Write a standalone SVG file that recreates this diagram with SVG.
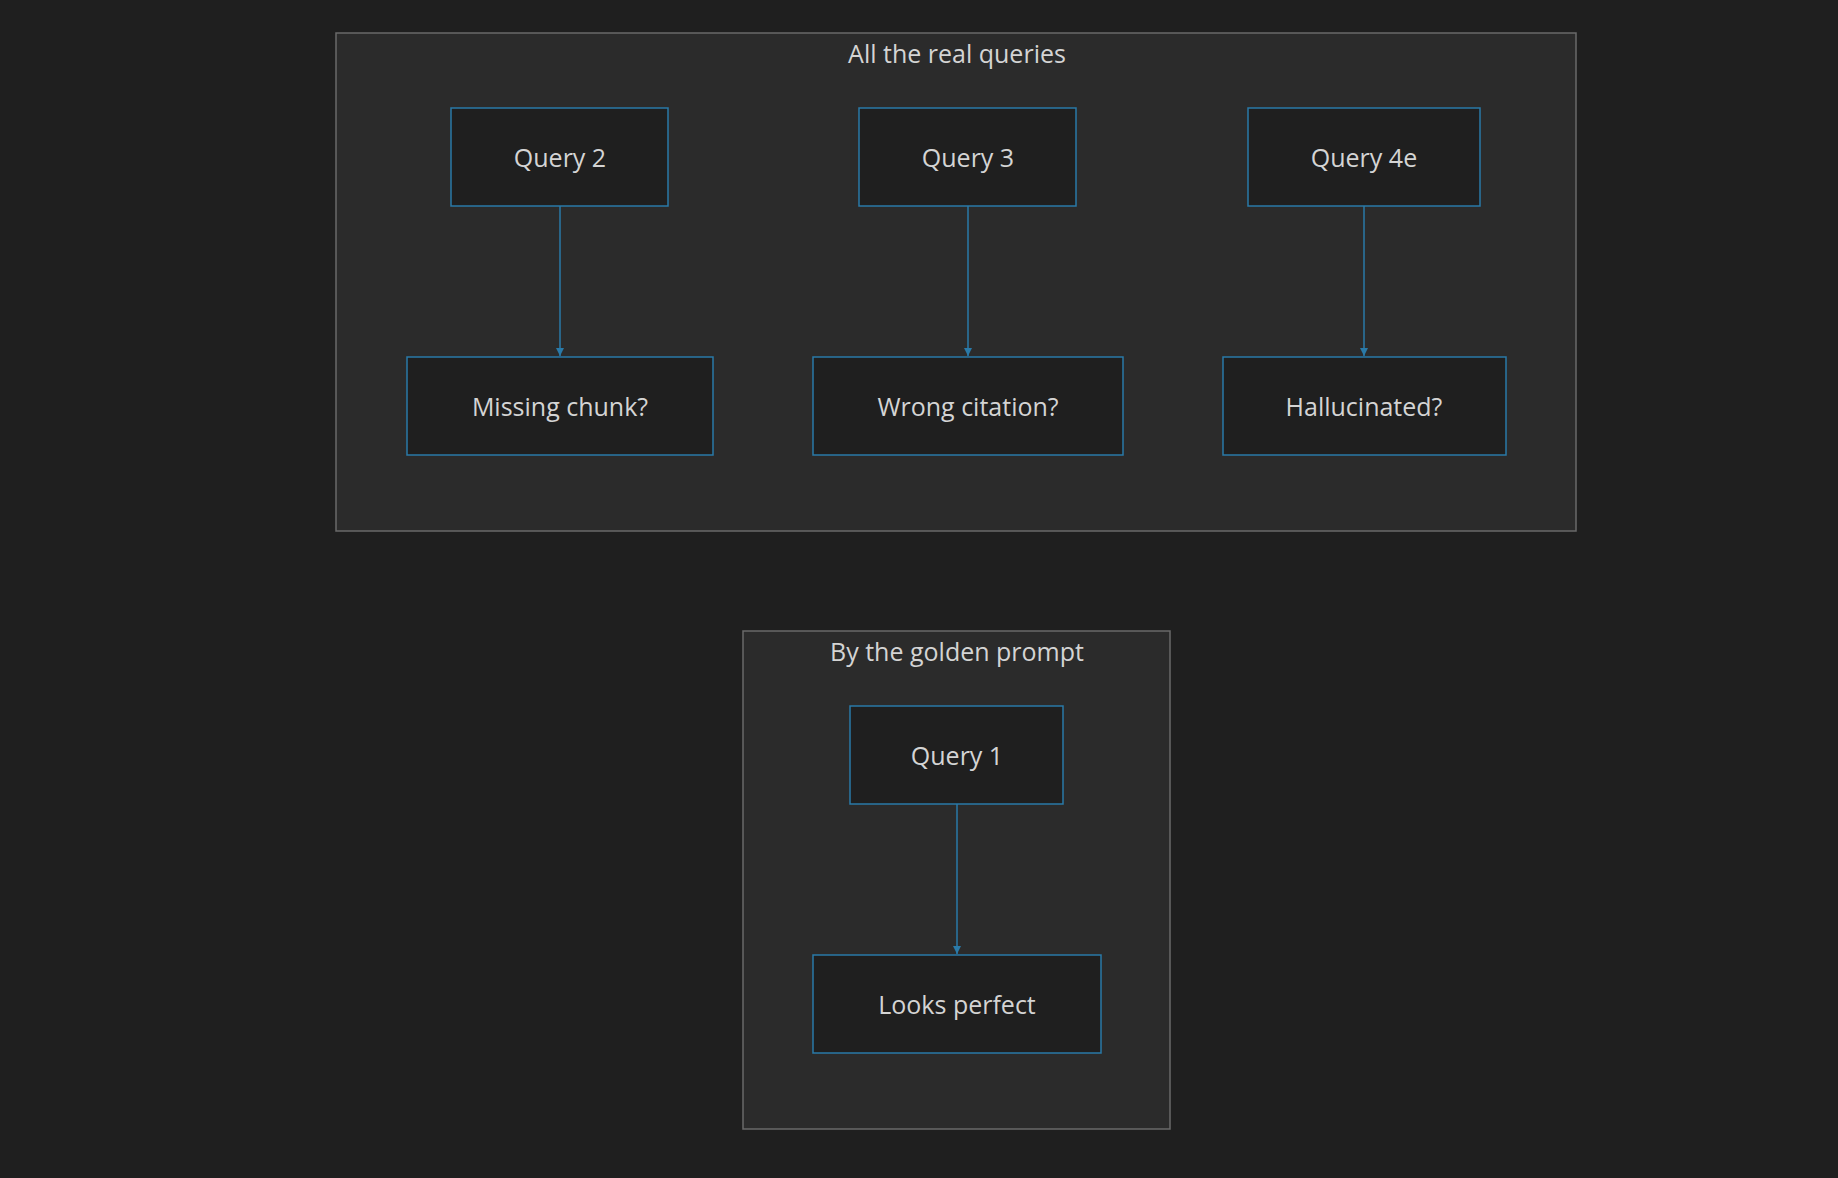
<svg xmlns="http://www.w3.org/2000/svg" width="1838" height="1178" viewBox="0 0 1838 1178">
<defs>
<marker id="ah" viewBox="0 0 10 10" refX="10" refY="5" markerWidth="8" markerHeight="8" orient="auto" markerUnits="userSpaceOnUse"><path d="M0,0L10,5L0,10z" fill="#2a7aa8"/></marker>
<style>
.cl{fill:#2b2b2b;stroke:#6a6a6a;stroke-width:1.5}
.nd{fill:#1f1f1f;stroke:#2a7aa8;stroke-width:1.5}
text{font-family:"Open Sans","Noto Sans",sans-serif;font-size:25px;fill:#d4d4d4;text-anchor:middle;dominant-baseline:central}
.e{stroke:#2a7aa8;stroke-width:1.5;fill:none;marker-end:url(#ah)}
</style>
</defs>
<rect width="1838" height="1178" fill="#1f1f1f"/>
<g id="cluster1"><rect class="cl" x="336" y="33" width="1240" height="498"/><text x="957" y="53">All the real queries</text></g>
<g id="cluster2"><rect class="cl" x="743" y="631" width="427" height="498"/><text x="957" y="651">By the golden prompt</text></g>
<g id="connectors">
<path class="e" d="M560,206V356"/>
<path class="e" d="M968,206V356"/>
<path class="e" d="M1364,206V356"/>
<path class="e" d="M957,804V954"/>
</g>
<g id="q2"><rect class="nd" x="451" y="108" width="217" height="98"/><text x="560" y="157">Query 2</text></g>
<g id="q3"><rect class="nd" x="859" y="108" width="217" height="98"/><text x="968" y="157">Query 3</text></g>
<g id="q4"><rect class="nd" x="1248" y="108" width="232" height="98"/><text x="1364" y="157">Query 4e</text></g>
<g id="mc"><rect class="nd" x="407" y="357" width="306" height="98"/><text x="560" y="406">Missing chunk?</text></g>
<g id="wc"><rect class="nd" x="813" y="357" width="310" height="98"/><text x="968" y="406">Wrong citation?</text></g>
<g id="hl"><rect class="nd" x="1223" y="357" width="283" height="98"/><text x="1364" y="406">Hallucinated?</text></g>
<g id="q1"><rect class="nd" x="850" y="706" width="213" height="98"/><text x="957" y="755">Query 1</text></g>
<g id="lp"><rect class="nd" x="813" y="955" width="288" height="98"/><text x="957" y="1004">Looks perfect</text></g>
</svg>
